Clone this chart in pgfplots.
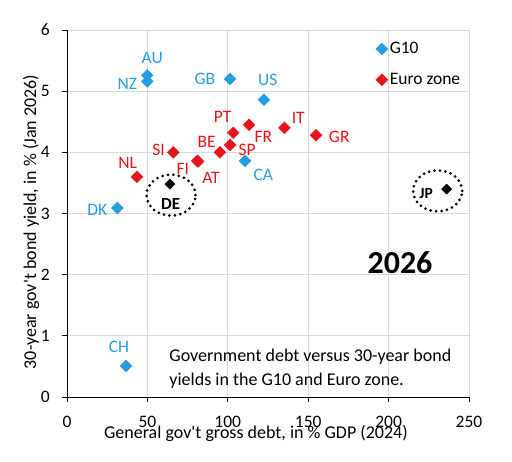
\documentclass[border=0pt]{standalone}
\usepackage{pgfplots}
\pgfplotsset{compat=1.18}
\usepackage{fontspec}
\setmainfont{Carlito}
\definecolor{gten}{RGB}{36,158,224}
\definecolor{euro}{RGB}{232,20,28}
\definecolor{gridc}{RGB}{217,217,217}
\newcommand{\fs}{\fontsize{17.5}{21}\selectfont}
\newcommand{\fl}{\fontsize{18}{24}\selectfont}
\begin{document}
\begin{tikzpicture}[font=\fs]
\begin{axis}[
  name=ax,
  scale only axis, width=402pt, height=367pt,
  xmin=0, xmax=250, ymin=0, ymax=6,
  xtick={0,50,...,250}, ytick={0,1,...,6},
  axis x line*=bottom, axis y line*=left,
  axis line style={black, line width=0.8pt, -},
  grid=major, major grid style={gridc, line width=0.8pt},
  tick align=outside, major tick length=5pt,
  tick style={black, line width=0.8pt},
  /pgf/number format/assume math mode=true,
  ticklabel style={font=\fs},
  xticklabel style={anchor=center, yshift=-20pt},
  yticklabel style={anchor=east, inner sep=0pt, xshift=-12pt},
  xlabel={General gov\textquotesingle t gross debt, in \% GDP (2024)},
  ylabel={30-year gov\textquotesingle t bond yield, in \% (Jan 2026)},
  every axis x label/.style={at={(axis description cs:0.47,0)}, anchor=center, yshift=-36pt, font=\fl},
  every axis y label/.style={at={(axis description cs:-0.0896,0.477)}, rotate=90, anchor=center, font=\fl},
  legend style={draw=none, fill=none, at={(axis cs:192,5.83)}, anchor=north west, row sep=14pt, font=\fs, inner sep=0pt, cells={anchor=west}},
  legend image code/.code={\draw[mark repeat=2,mark phase=2,#1] plot coordinates {(0cm,0cm)(0.15cm,0cm)(0.3cm,0cm)};},
  clip=false,
]
\addplot[only marks, mark=square*, mark size=4.2pt, mark options={rotate=45, fill=gten, draw=gten}] coordinates {
 (49.9,5.26) (49.9,5.16) (101.4,5.20) (122.5,4.86) (110.7,3.86) (31.3,3.09) (36.7,0.51)
};
\addlegendentry{G10}
\addplot[only marks, mark=square*, mark size=4.2pt, mark options={rotate=45, fill=euro, draw=euro}] coordinates {
 (103.4,4.32) (113.2,4.45) (135.2,4.40) (154.9,4.28) (101.4,4.12) (95.1,4.00) (66.1,4.00) (81.0,3.86) (81.5,3.85) (43.5,3.60)
};
\addlegendentry{Euro zone}
\addplot[only marks, mark=square*, mark size=3.6pt, mark options={rotate=45, fill=black, draw=black}, forget plot] coordinates {
 (64.0,3.48) (236.1,3.40)
};
% G10 labels
\node[text=gten, font=\fs] at (axis cs:53.0,5.54) {AU};
\node[text=gten, font=\fs] at (axis cs:37.5,5.12) {NZ};
\node[text=gten, font=\fs] at (axis cs:85.8,5.20) {GB};
\node[text=gten, font=\fs] at (axis cs:124.8,5.18) {US};
\node[text=gten, font=\fs] at (axis cs:122.1,3.63) {CA};
\node[text=gten, font=\fs] at (axis cs:18.8,3.06) {DK};
\node[text=gten, font=\fs] at (axis cs:32.3,0.82) {CH};
% Euro labels
\node[text=euro, font=\fs] at (axis cs:96.8,4.58) {PT};
\node[text=euro, font=\fs] at (axis cs:122.1,4.25) {FR};
\node[text=euro, font=\fs] at (axis cs:143.8,4.57) {IT};
\node[text=euro, font=\fs] at (axis cs:169.3,4.25) {GR};
\node[text=euro, font=\fs] at (axis cs:112.1,4.04) {SP};
\node[text=euro, font=\fs] at (axis cs:86.9,4.17) {BE};
\node[text=euro, font=\fs] at (axis cs:57.0,4.04) {SI};
\node[text=euro, font=\fs] at (axis cs:72.0,3.73) {FI};
\node[text=euro, font=\fs] at (axis cs:89.6,3.59) {AT};
\node[text=euro, font=\fs] at (axis cs:37.7,3.83) {NL};
% black
\node[font=\fontsize{17}{20}\selectfont\bfseries] at (axis cs:64.5,3.16) {DE};
\node[font=\fontsize{15.5}{18}\selectfont\bfseries] at (axis cs:223.3,3.32) {JP};
\draw[black, line width=3pt, line cap=round, dash pattern=on 0pt off 5.5pt] (axis cs:64.7,3.30) ellipse [x radius=24.5pt, y radius=20.5pt];
\draw[black, line width=3pt, line cap=round, dash pattern=on 0pt off 5.5pt] (axis cs:230.5,3.37) ellipse [x radius=24.5pt, y radius=20.5pt];
\node[font=\fontsize{32}{36}\selectfont\bfseries] at (axis cs:207.1,2.19) {2026};
\node[font=\fl, align=left, anchor=west, inner sep=0pt] at (axis cs:63.6,0.466) {Government debt versus 30-year bond\\yields in the G10 and Euro zone.};
\end{axis}
\pgfresetboundingbox
\path[use as bounding box] (ax.south west) ++(-67pt,-65pt) rectangle ++(512pt,462pt);
\end{tikzpicture}
\end{document}
